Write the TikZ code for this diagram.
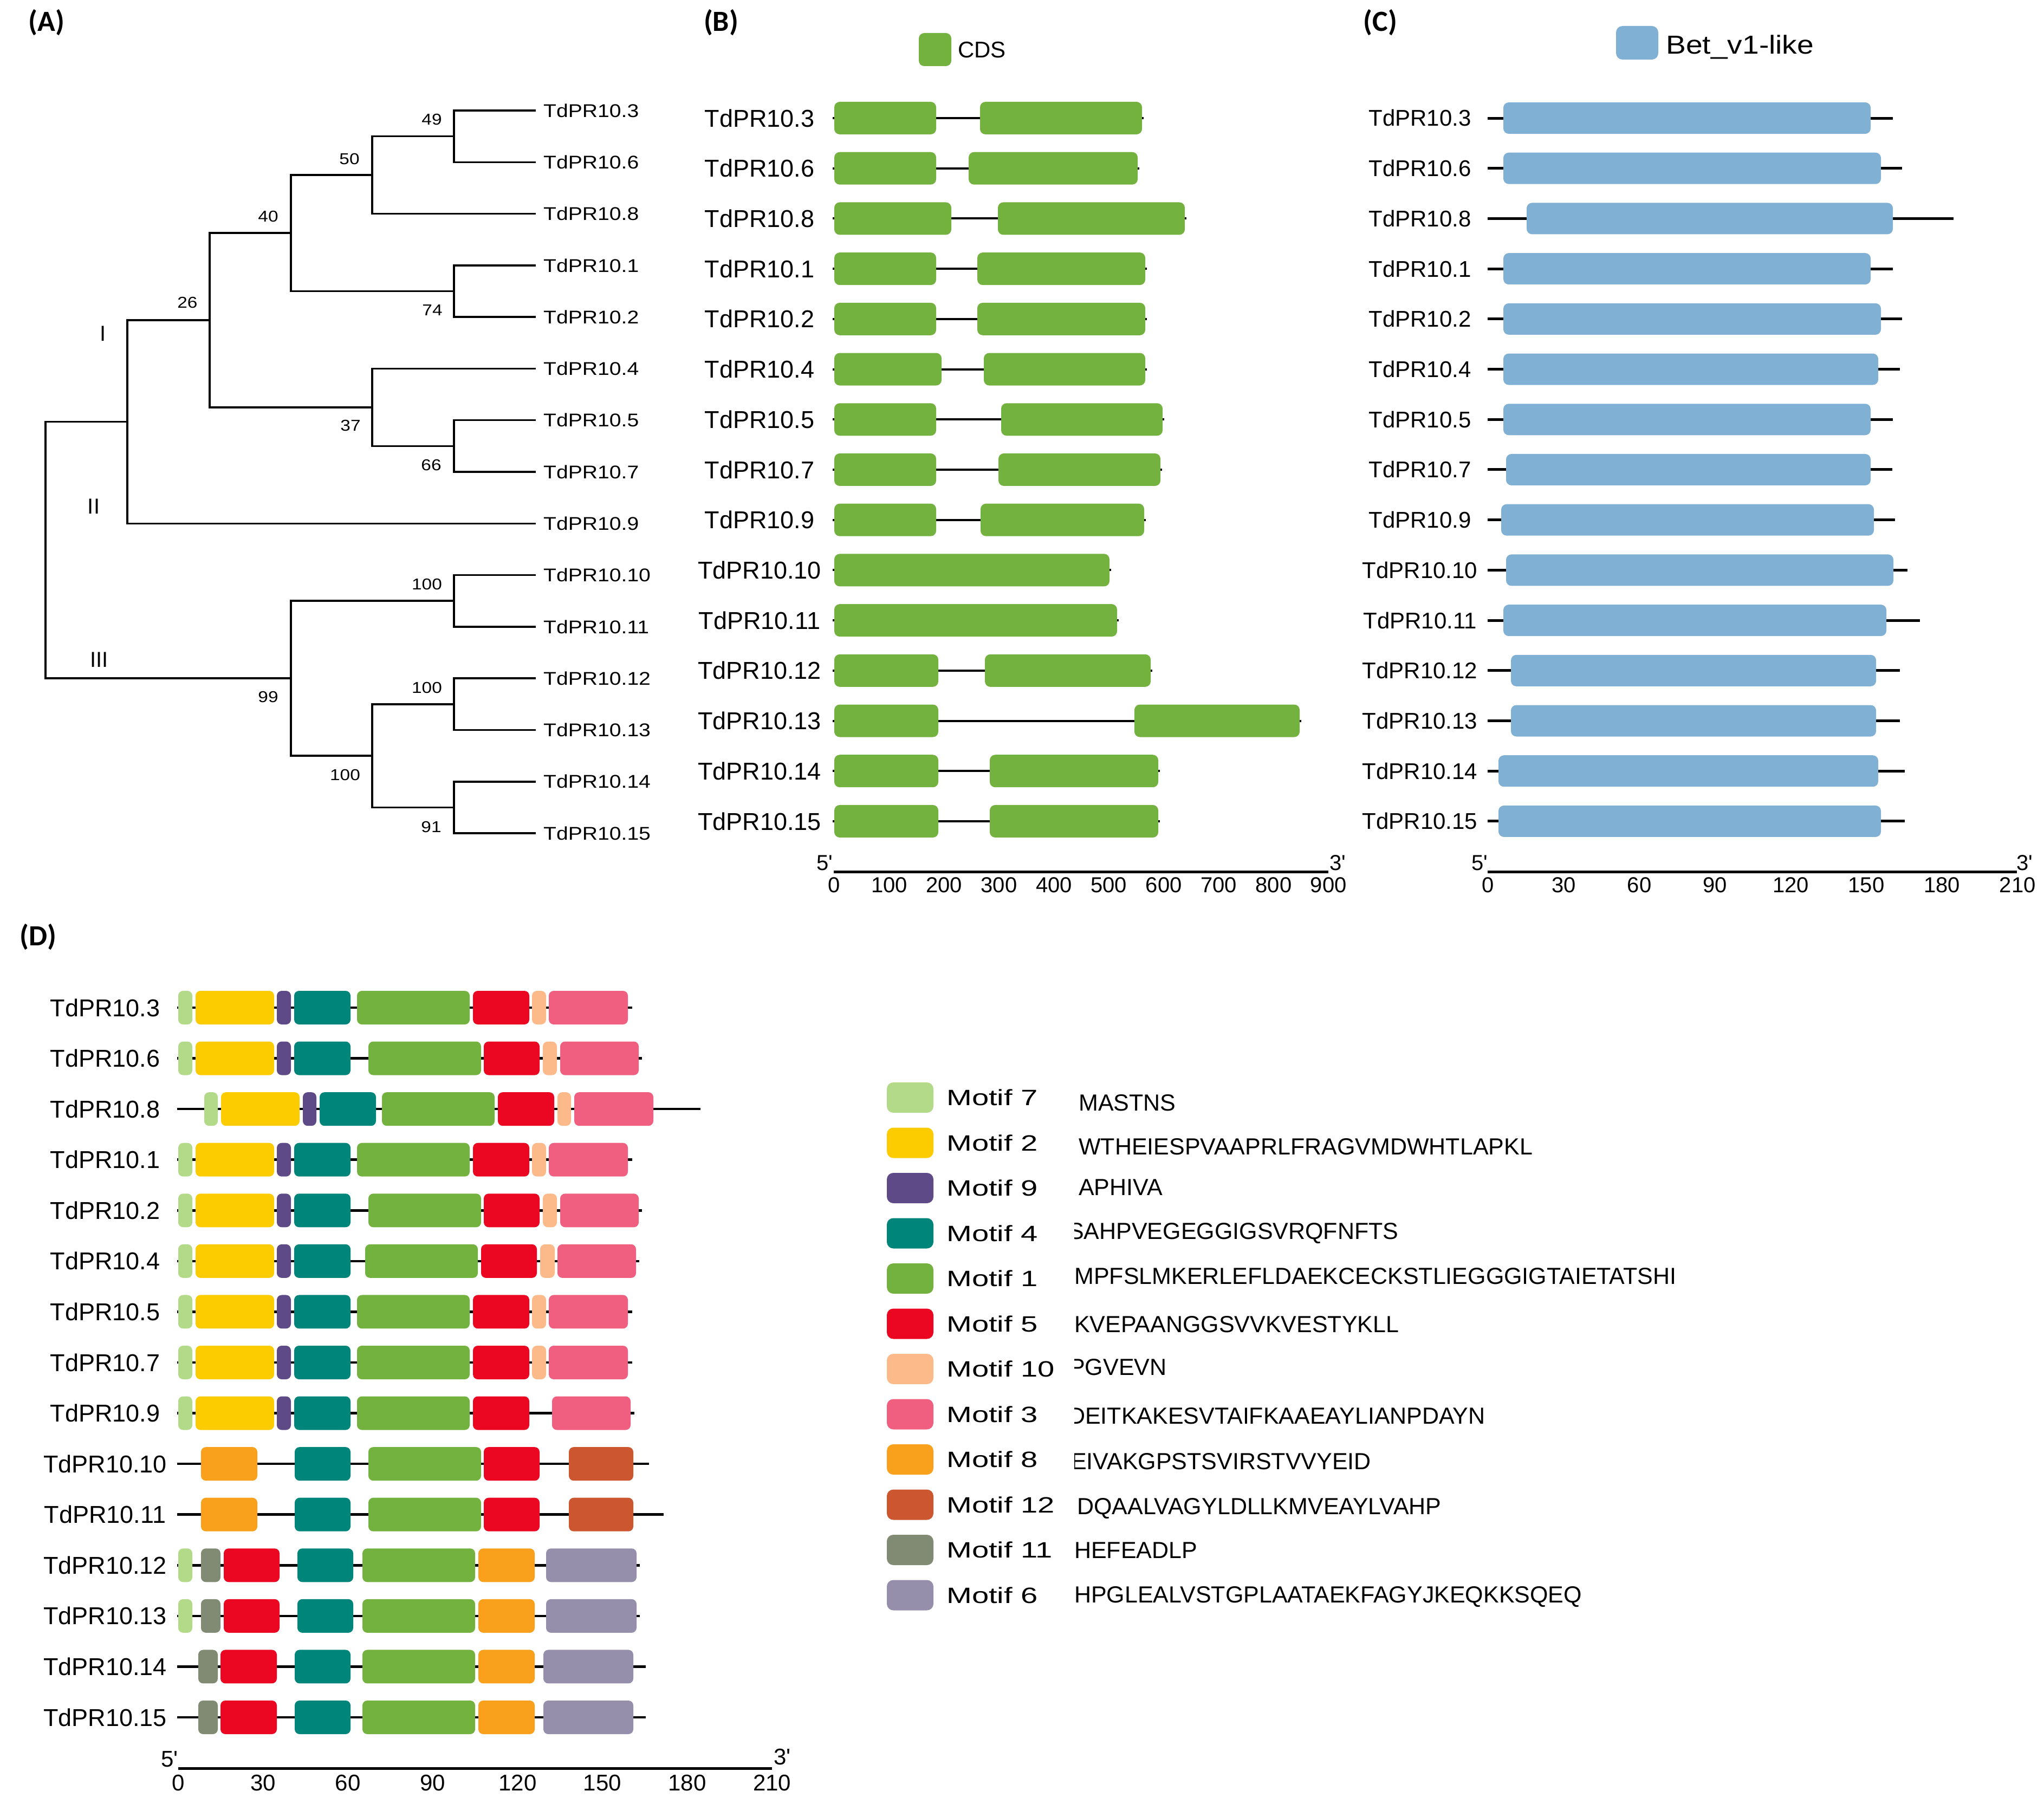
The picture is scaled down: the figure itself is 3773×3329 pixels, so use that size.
\documentclass[tikz,border=0pt]{standalone}
\usepackage{fontspec}
\setmainfont{Liberation Sans}
\newfontfamily\treefont[FakeStretch=1.15]{Liberation Sans}
\newfontfamily\motiffont[FakeStretch=1.37]{Liberation Sans}
\newfontfamily\plainfont{Liberation Sans}
\newfontfamily\panelfont{Carlito}
\definecolor{cdsg}{HTML}{74B23F}
\definecolor{betb}{HTML}{80B0D3}
\definecolor{m7}{HTML}{B2DA88}
\definecolor{m2}{HTML}{FCCC00}
\definecolor{m9}{HTML}{5E4A87}
\definecolor{m4}{HTML}{00857A}
\definecolor{m1}{HTML}{74B23F}
\definecolor{m5}{HTML}{EB0722}
\definecolor{m10}{HTML}{FCB98A}
\definecolor{m3}{HTML}{F05F80}
\definecolor{m8}{HTML}{F9A11C}
\definecolor{m12}{HTML}{CB5630}
\definecolor{m11}{HTML}{818A73}
\definecolor{m6}{HTML}{958FAB}
\newcommand\mbx[3]{\fill[rounded corners=9pt,#1] (#2,\yy-31) rectangle (#3,\yy+31);}
\newcommand\headA{\mbx{m7}{329}{355}\mbx{m2}{361}{506}\mbx{m9}{511}{537}\mbx{m4}{543}{647}}
\newcommand\rowone{\headA\mbx{m1}{659}{867}\mbx{m5}{873}{977}\mbx{m10}{982}{1008}\mbx{m3}{1013}{1159}}
\newcommand\rowtwo{\headA\mbx{m1}{680}{888}\mbx{m5}{893}{996}\mbx{m10}{1002}{1028}\mbx{m3}{1034}{1179}}
\newcommand\rowthree{\mbx{m7}{377}{402}\mbx{m2}{408}{553}\mbx{m9}{559}{584}\mbx{m4}{590}{694}\mbx{m1}{705}{913}\mbx{m5}{919}{1023}\mbx{m10}{1029}{1054}\mbx{m3}{1060}{1206}}
\newcommand\rowfour{\headA\mbx{m1}{674}{882}\mbx{m5}{888}{991}\mbx{m10}{997}{1024}\mbx{m3}{1029}{1174}}
\newcommand\rowfive{\headA\mbx{m1}{659}{867}\mbx{m5}{873}{977}\mbx{m3}{1019}{1164}}
\newcommand\rowsix{\mbx{m8}{371}{475}\mbx{m4}{544}{647}\mbx{m1}{680}{888}\mbx{m5}{893}{996}\mbx{m12}{1050}{1169}}
\newcommand\rowseven{\mbx{m7}{329}{355}\mbx{m11}{371}{407}\mbx{m5}{413}{516}\mbx{m4}{549}{652}\mbx{m1}{669}{877}\mbx{m8}{883}{987}\mbx{m6}{1008}{1175}}
\newcommand\roweight{\mbx{m11}{366}{402}\mbx{m5}{407}{511}\mbx{m4}{544}{647}\mbx{m1}{669}{877}\mbx{m8}{883}{987}\mbx{m6}{1003}{1169}}
\begin{document}
\begin{tikzpicture}[x=1pt,y=-1pt,
  tline/.style={line width=3.5pt,line cap=rect},
  treelbl/.style={font=\treefont\fontsize{34}{40}\selectfont,anchor=west,inner sep=0pt,text height=24.3pt,text depth=0pt},
  bsnum/.style={font=\treefont\fontsize{29}{34}\selectfont,inner sep=0pt,text height=20.8pt,text depth=0pt},
  roman/.style={font=\fontsize{40}{48}\selectfont,inner sep=0pt,text height=28.6pt,text depth=0pt},
  glbl/.style={font=\fontsize{45}{54}\selectfont,inner sep=0pt,text height=32.2pt,text depth=0pt},
  clbl/.style={font=\fontsize{42}{50}\selectfont,inner sep=0pt,text height=30pt,text depth=0pt},
  tick/.style={font=\plainfont\fontsize{40}{48}\selectfont,inner sep=0pt,text height=28.6pt,text depth=0pt},
  tickd/.style={font=\plainfont\fontsize{42}{50}\selectfont,inner sep=0pt,text height=30pt,text depth=0pt},
  mlbl/.style={font=\motiffont\fontsize{41}{48}\selectfont,anchor=west,inner sep=0pt,text height=29.4pt,text depth=0pt},
  seq/.style={font=\fontsize{43}{50}\selectfont,anchor=west,inner sep=0pt,text height=30.8pt,text depth=0pt},
  panel/.style={font=\panelfont\bfseries\fontsize{54}{60}\selectfont,inner sep=0pt},
  intron/.style={line width=4pt},
  cline/.style={line width=5pt},
  dln/.style={line width=4.5pt},
  axis/.style={line width=5pt},
  cdsbox/.style={fill=cdsg,rounded corners=10pt},
  betbox/.style={fill=betb,rounded corners=10pt}]
\useasboundingbox (0,0) rectangle (3773,3329);

% ---------- panel labels ----------
\node[panel] (pA) at (86,42) {(A)};
\node[panel] (pB) at (1331,42) {(B)};
\node[panel] (pC) at (2548,42) {(C)};
\node[panel] (pD) at (70,1730) {(D)};

% ---------- (A) tree ----------
\foreach \n [count=\i from 0] in {3,6,8,1,2,4,5,7,9,10,11,12,13,14,15}{
  \coordinate (t\n) at (987,204+95.29*\i);
  \node[treelbl] (a\n) at (1003,204+95.29*\i) {TdPR10.\n};
}
\coordinate (root) at (84,1015);
\coordinate (nI) at (235,778.6);
\coordinate (n26) at (387,591);
\coordinate (n40) at (537,430);
\coordinate (n50) at (687,323);
\coordinate (n49) at (838,251.6);
\coordinate (n74) at (838,537.5);
\coordinate (n37) at (687,752);
\coordinate (n66) at (838,823.4);
\coordinate (n99) at (537,1252);
\coordinate (nA) at (838,1109);
\coordinate (nB) at (687,1395);
\coordinate (nC) at (838,1300);
\coordinate (nD) at (838,1490.4);
\draw[tline] (root) |- (nI);  \draw[tline] (root) |- (n99);
\draw[tline] (nI) |- (n26);   \draw[tline] (nI) |- (t9);
\draw[tline] (n26) |- (n40);  \draw[tline] (n26) |- (n37);
\draw[tline] (n40) |- (n50);  \draw[tline] (n40) |- (n74);
\draw[tline] (n50) |- (n49);  \draw[tline] (n50) |- (t8);
\draw[tline] (n49) |- (t3);   \draw[tline] (n49) |- (t6);
\draw[tline] (n74) |- (t1);   \draw[tline] (n74) |- (t2);
\draw[tline] (n37) |- (t4);   \draw[tline] (n37) |- (n66);
\draw[tline] (n66) |- (t5);   \draw[tline] (n66) |- (t7);
\draw[tline] (n99) |- (nA);   \draw[tline] (n99) |- (nB);
\draw[tline] (nA) |- (t10);   \draw[tline] (nA) |- (t11);
\draw[tline] (nB) |- (nC);    \draw[tline] (nB) |- (nD);
\draw[tline] (nC) |- (t12);   \draw[tline] (nC) |- (t13);
\draw[tline] (nD) |- (t14);   \draw[tline] (nD) |- (t15);
\node[bsnum] (b49) at (797,220) {49};
\node[bsnum] (b50) at (645,293) {50};
\node[bsnum] (b40) at (495,399) {40};
\node[bsnum] (b26) at (346,558) {26};
\node[bsnum] (b74) at (798,572) {74};
\node[bsnum] (b37) at (647,785) {37};
\node[bsnum] (b66) at (796,858) {66};
\node[bsnum] (b100a) at (788,1078) {100};
\node[bsnum] (b100c) at (788,1269) {100};
\node[bsnum] (b100b) at (637,1430) {100};
\node[bsnum] (b99) at (495,1286) {99};
\node[bsnum] (b91) at (796,1526) {91};
\node[roman] (rI) at (190,615) {I};
\node[roman] (rII) at (173,934) {II};
\node[roman] (rIII) at (183,1217) {III};

% ---------- (B) gene structure ----------
\fill[cdsbox] (1696,61) rectangle (1756,122);
\node[clbl,anchor=west] (cdsl) at (1768,92) {CDS};
\foreach \n/\i/\a/\b/\c in {3/0/1728/1809/2108, 6/1/1728/1788/2100, 8/2/1756/1842/2187, 1/3/1728/1804/2114, 2/4/1728/1804/2114, 4/5/1738/1816/2114, 5/6/1728/1848/2146, 7/7/1728/1843/2142, 9/8/1728/1810/2112, 12/11/1732/1818/2124, 13/12/1732/2094/2399, 14/13/1732/1827/2138, 15/14/1732/1827/2138}{
  \pgfmathsetmacro\yy{218+92.71*\i}
  \node[glbl] (bl\n) at (1402,\yy) {TdPR10.\n};
  \draw[intron] (1537,\yy) -- (\c+3,\yy);
  \fill[cdsbox] (1540,\yy-30) rectangle (\a,\yy+30);
  \fill[cdsbox] (\b,\yy-30) rectangle (\c,\yy+30);
}
\foreach \n/\i/\a in {10/9/2048, 11/10/2062}{
  \pgfmathsetmacro\yy{218+92.71*\i}
  \node[glbl] (bl\n) at (1402,\yy) {TdPR10.\n};
  \draw[intron] (1537,\yy) -- (\a+3,\yy);
  \fill[cdsbox] (1540,\yy-30) rectangle (\a,\yy+30);
}
\draw[axis] (1539,1609) -- (2452,1609);
\foreach \v in {0,100,...,900}{
  \node[tick] (bt\v) at (1540+1.0136*\v,1633) {\v};
}
\node[tick] (b5) at (1522,1592) {5'};
\node[tick] (b3) at (2469,1592) {3'};

% ---------- (C) domains ----------
\fill[betbox,rounded corners=12pt] (2983,48) rectangle (3061,110);
\node[font=\treefont\fontsize{48}{56}\selectfont,anchor=west,inner sep=0pt,text height=34pt,text depth=0pt] (betl) at (3075,83) {Bet\_v1-like};
\foreach \n/\i/\e/\s/\t in {3/0/3494/2775/3453, 6/1/3511/2775/3472, 8/2/3606/2818/3494, 1/3/3494/2775/3453, 2/4/3511/2775/3472, 4/5/3507/2775/3467, 5/6/3494/2775/3453, 7/7/3493/2780/3453, 9/8/3498/2771/3459, 10/9/3521/2780/3495, 11/10/3544/2775/3482, 12/11/3507/2789/3463, 13/12/3507/2789/3463, 14/13/3516/2766/3467, 15/14/3516/2766/3472}{
  \pgfmathsetmacro\yy{218+92.71*\i}
  \node[clbl] (cl\n) at (2621,\yy) {TdPR10.\n};
  \draw[cline] (2746,\yy) -- (\e,\yy);
  \fill[betbox] (\s,\yy-29) rectangle (\t,\yy+29);
}
\draw[axis] (2746,1609) -- (3723,1609);
\foreach \v in {0,30,...,210}{
  \node[tick] (ct\v) at (2747+4.653*\v,1633) {\v};
}
\node[tick] (c5) at (2731,1592) {5'};
\node[tick] (c3) at (3737,1592) {3'};

% ---------- (D) motifs ----------
\foreach \n/\i/\e/\k in {3/0/1167/1, 6/1/1185/2, 8/2/1293/3, 1/3/1167/1, 2/4/1185/2, 4/5/1180/4, 5/6/1167/1, 7/7/1167/1, 9/8/1171/5, 10/9/1198/6, 11/10/1225/6, 12/11/1181/7, 13/12/1181/7, 14/13/1192/8, 15/14/1192/8}{
  \pgfmathsetmacro\yy{1860+93.57*\i}
  \node[glbl] (dl\n) at (194,\yy) {TdPR10.\n};
  \draw[dln] (327,\yy) -- (\e,\yy);
  \ifcase\k\or\rowone\or\rowtwo\or\rowthree\or\rowfour\or\rowfive\or\rowsix\or\rowseven\or\roweight\fi
}
\draw[axis] (329,3264) -- (1425,3264);
\foreach \v in {0,30,...,210}{
  \node[tickd] (dt\v) at (329+5.22*\v,3290) {\v};
}
\node[tickd] (d5) at (313,3246) {5'};
\node[tickd] (d3) at (1444,3242) {3'};

% ---------- motif legend ----------
\foreach \lab/\col [count=\i from 0] in {7/m7,2/m2,9/m9,4/m4,1/m1,5/m5,10/m10,3/m3,8/m8,12/m12,11/m11,6/m6}{
  \pgfmathsetmacro\yy{2026+83.5*\i}
  \fill[rounded corners=12pt,\col] (1637,\yy-28) rectangle (1723,\yy+28);
  \node[mlbl] (ml\lab) at (1747,\yy) {Motif \lab};
}
\node[seq] (s7) at (1991,2035) {MASTNS};
\node[seq] (s2) at (1991,2116) {WTHEIESPVAAPRLFRAGVMDWHTLAPKL};
\node[seq] (s9) at (1991,2191) {APHIVA};
\node[seq] (s1) at (1983,2355) {MPFSLMKERLEFLDAEKCECKSTLIEGGGIGTAIETATSHI};
\node[seq] (s5) at (1983,2444) {KVEPAANGGSVVKVESTYKLL};
\node[seq] (s12) at (1988,2780) {DQAALVAGYLDLLKMVEAYLVAHP};
\node[seq] (s11) at (1983,2861) {HEFEADLP};
\node[seq] (s6) at (1983,2943) {HPGLEALVSTGPLAATAEKFAGYJKEQKKSQEQ};
\begin{scope}
  \clip (1983,2200) rectangle (3600,2750);
  \node[seq] (s4) at (1972,2272) {SAHPVEGEGGIGSVRQFNFTS};
  \node[seq] (s10) at (1974,2523) {PGVEVN};
  \node[seq] (s3) at (1972,2613) {DEITKAKESVTAIFKAAEAYLIANPDAYN};
  \node[seq] (s8) at (1977,2697) {EIVAKGPSTSVIRSTVVYEID};
\end{scope}
\end{tikzpicture}
\end{document}
